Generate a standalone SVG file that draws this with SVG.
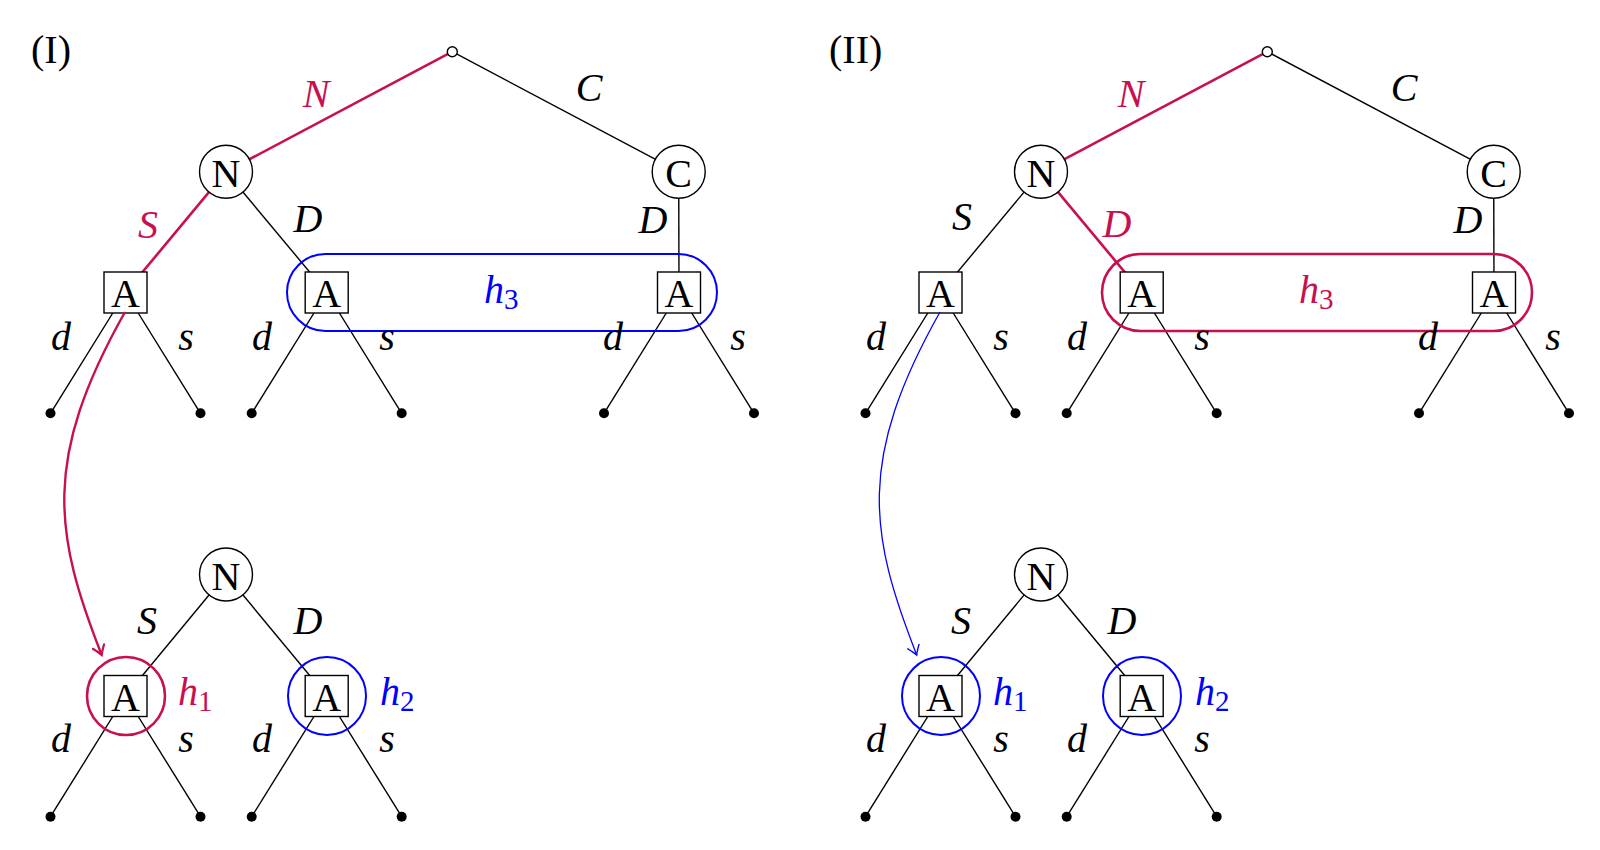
<svg xmlns="http://www.w3.org/2000/svg" width="1600" height="850" viewBox="0 0 1600 850">
<defs>
<style>
.e{stroke:#000;stroke-width:1.4;fill:none}
.er{stroke:#C8104E;stroke-width:2.6;fill:none}
.nd{fill:#fff;stroke:#000;stroke-width:1.4}
.lf{fill:#000}
.t{font-family:"Liberation Serif","Times New Roman",serif;font-size:40px;fill:#000}
.i{font-style:italic}
.m{text-anchor:middle}
.c{text-anchor:middle;dominant-baseline:central}
.red{fill:#C8104E}
.blue{fill:#0000FF}
.hr{fill:none;stroke:#C8104E;stroke-width:2.6}
.hb{fill:none;stroke:#0000FF;stroke-width:2}
</style>
<marker id="arrR" viewBox="-11 -7 13 14" refX="0" refY="0" markerWidth="13" markerHeight="14" orient="auto" markerUnits="userSpaceOnUse">
<path d="M-9,-6 Q-3,-1.5 0,0 Q-3,1.5 -9,6" fill="none" stroke="#C8104E" stroke-width="2.2" stroke-linecap="round"/>
</marker>
<marker id="arrB" viewBox="-11 -7 13 14" refX="0" refY="0" markerWidth="13" markerHeight="14" orient="auto" markerUnits="userSpaceOnUse">
<path d="M-9,-6 Q-3,-1.5 0,0 Q-3,1.5 -9,6" fill="none" stroke="#0000FF" stroke-width="1.4" stroke-linecap="round"/>
</marker>
</defs>
<rect width="1600" height="850" fill="#fff"/>

<g id="connectors">
<!-- Panel I top -->
<line class="er" x1="452.3" y1="51.7" x2="226" y2="171.7"/>
<line class="e" x1="452.3" y1="51.7" x2="678.7" y2="171.7"/>
<line class="er" x1="226" y1="171.7" x2="125.5" y2="292.5"/>
<line class="e" x1="226" y1="171.7" x2="326.7" y2="292.5"/>
<line class="e" x1="678.7" y1="171.7" x2="679" y2="292.5"/>
<line class="e" x1="125.5" y1="292.5" x2="50.5" y2="413.3"/>
<line class="e" x1="125.5" y1="292.5" x2="200.5" y2="413.3"/>
<line class="e" x1="326.7" y1="292.5" x2="251.7" y2="413.3"/>
<line class="e" x1="326.7" y1="292.5" x2="401.7" y2="413.3"/>
<line class="e" x1="679" y1="292.5" x2="604" y2="413.3"/>
<line class="e" x1="679" y1="292.5" x2="754" y2="413.3"/>
<!-- Panel I bottom -->
<line class="e" x1="226" y1="574.5" x2="125.5" y2="696"/>
<line class="e" x1="226" y1="574.5" x2="326.7" y2="696"/>
<line class="e" x1="125.5" y1="696" x2="50.5" y2="816.7"/>
<line class="e" x1="125.5" y1="696" x2="200.5" y2="816.7"/>
<line class="e" x1="326.7" y1="696" x2="251.7" y2="816.7"/>
<line class="e" x1="326.7" y1="696" x2="401.7" y2="816.7"/>
<!-- Panel II top -->
<line class="er" x1="1267.3" y1="51.7" x2="1041" y2="171.7"/>
<line class="e" x1="1267.3" y1="51.7" x2="1493.7" y2="171.7"/>
<line class="e" x1="1041" y1="171.7" x2="940.5" y2="292.5"/>
<line class="er" x1="1041" y1="171.7" x2="1141.7" y2="292.5"/>
<line class="e" x1="1493.7" y1="171.7" x2="1494" y2="292.5"/>
<line class="e" x1="940.5" y1="292.5" x2="865.5" y2="413.3"/>
<line class="e" x1="940.5" y1="292.5" x2="1015.5" y2="413.3"/>
<line class="e" x1="1141.7" y1="292.5" x2="1066.7" y2="413.3"/>
<line class="e" x1="1141.7" y1="292.5" x2="1216.7" y2="413.3"/>
<line class="e" x1="1494" y1="292.5" x2="1419" y2="413.3"/>
<line class="e" x1="1494" y1="292.5" x2="1569" y2="413.3"/>
<!-- Panel II bottom -->
<line class="e" x1="1041" y1="574.5" x2="940.5" y2="696"/>
<line class="e" x1="1041" y1="574.5" x2="1141.7" y2="696"/>
<line class="e" x1="940.5" y1="696" x2="865.5" y2="816.7"/>
<line class="e" x1="940.5" y1="696" x2="1015.5" y2="816.7"/>
<line class="e" x1="1141.7" y1="696" x2="1066.7" y2="816.7"/>
<line class="e" x1="1141.7" y1="696" x2="1216.7" y2="816.7"/>
</g>

<g id="infosets">
<rect id="h3-I" class="hb" x="287" y="254" width="430" height="77" rx="38.5"/>
<rect id="h3-II" class="hr" x="1102" y="254" width="430" height="77" rx="38.5"/>
<circle id="h1-I" class="hr" cx="126" cy="696" r="39"/>
<circle id="h2-I" class="hb" cx="327" cy="696" r="39"/>
<circle id="h1-II" class="hb" cx="941" cy="696" r="39"/>
<circle id="h2-II" class="hb" cx="1142" cy="696" r="39"/>
</g>

<g id="leaves">
<circle class="lf" cx="50.5" cy="413.3" r="5"/><circle class="lf" cx="200.5" cy="413.3" r="5"/>
<circle class="lf" cx="251.7" cy="413.3" r="5"/><circle class="lf" cx="401.7" cy="413.3" r="5"/>
<circle class="lf" cx="604" cy="413.3" r="5"/><circle class="lf" cx="754" cy="413.3" r="5"/>
<circle class="lf" cx="50.5" cy="816.7" r="5"/><circle class="lf" cx="200.5" cy="816.7" r="5"/>
<circle class="lf" cx="251.7" cy="816.7" r="5"/><circle class="lf" cx="401.7" cy="816.7" r="5"/>
<circle class="lf" cx="865.5" cy="413.3" r="5"/><circle class="lf" cx="1015.5" cy="413.3" r="5"/>
<circle class="lf" cx="1066.7" cy="413.3" r="5"/><circle class="lf" cx="1216.7" cy="413.3" r="5"/>
<circle class="lf" cx="1419" cy="413.3" r="5"/><circle class="lf" cx="1569" cy="413.3" r="5"/>
<circle class="lf" cx="865.5" cy="816.7" r="5"/><circle class="lf" cx="1015.5" cy="816.7" r="5"/>
<circle class="lf" cx="1066.7" cy="816.7" r="5"/><circle class="lf" cx="1216.7" cy="816.7" r="5"/>
</g>

<!-- Panel I nodes -->
<g id="root-I"><circle class="nd" cx="452.3" cy="51.7" r="5"/></g>
<g id="N-I"><circle class="nd" cx="226" cy="171.7" r="26.5"/><text class="t c" x="226" y="173">N</text></g>
<g id="C-I"><circle class="nd" cx="678.7" cy="171.7" r="26.5"/><text class="t c" x="678.7" y="173">C</text></g>
<g id="A1-I"><rect class="nd" x="104" y="272" width="43" height="41"/><text class="t c" x="125.5" y="293.5">A</text></g>
<g id="A2-I"><rect class="nd" x="305.2" y="272" width="43" height="41"/><text class="t c" x="326.7" y="293.5">A</text></g>
<g id="A3-I"><rect class="nd" x="657.5" y="272" width="43" height="41"/><text class="t c" x="679" y="293.5">A</text></g>
<g id="Nb-I"><circle class="nd" cx="226" cy="574.5" r="26.5"/><text class="t c" x="226" y="576">N</text></g>
<g id="Ab1-I"><rect class="nd" x="104" y="675.5" width="43" height="41"/><text class="t c" x="125.5" y="697">A</text></g>
<g id="Ab2-I"><rect class="nd" x="305.2" y="675.5" width="43" height="41"/><text class="t c" x="326.7" y="697">A</text></g>

<!-- Panel II nodes -->
<g id="root-II"><circle class="nd" cx="1267.3" cy="51.7" r="5"/></g>
<g id="N-II"><circle class="nd" cx="1041" cy="171.7" r="26.5"/><text class="t c" x="1041" y="173">N</text></g>
<g id="C-II"><circle class="nd" cx="1493.7" cy="171.7" r="26.5"/><text class="t c" x="1493.7" y="173">C</text></g>
<g id="A1-II"><rect class="nd" x="919" y="272" width="43" height="41"/><text class="t c" x="940.5" y="293.5">A</text></g>
<g id="A2-II"><rect class="nd" x="1120.2" y="272" width="43" height="41"/><text class="t c" x="1141.7" y="293.5">A</text></g>
<g id="A3-II"><rect class="nd" x="1472.5" y="272" width="43" height="41"/><text class="t c" x="1494" y="293.5">A</text></g>
<g id="Nb-II"><circle class="nd" cx="1041" cy="574.5" r="26.5"/><text class="t c" x="1041" y="576">N</text></g>
<g id="Ab1-II"><rect class="nd" x="919" y="675.5" width="43" height="41"/><text class="t c" x="940.5" y="697">A</text></g>
<g id="Ab2-II"><rect class="nd" x="1120.2" y="675.5" width="43" height="41"/><text class="t c" x="1141.7" y="697">A</text></g>

<g id="arrows">
<path d="M125,312 C41.7,459.9 54.4,534.1 101.7,655" fill="none" stroke="#C8104E" stroke-width="2.4" marker-end="url(#arrR)"/>
<path d="M940,312 C856.7,459.9 869.4,534.1 916.7,655" fill="none" stroke="#0000FF" stroke-width="1.3" marker-end="url(#arrB)"/>
</g>

<g id="labels">
<text class="t" x="31" y="63" font-size="37">(I)</text>
<text class="t" x="829" y="63" font-size="37">(II)</text>
<!-- Panel I -->
<text class="t i m red" x="316" y="107">N</text>
<text class="t i m" x="589" y="101">C</text>
<text class="t i m red" x="148" y="238">S</text>
<text class="t i m" x="308" y="232">D</text>
<text class="t i m" x="653" y="233">D</text>
<text class="t i blue" x="484" y="303">h<tspan font-size="29" font-style="normal" dy="6">3</tspan></text>
<text class="t i m" x="61" y="350">d</text>
<text class="t i m" x="186" y="350">s</text>
<text class="t i m" x="262" y="350">d</text>
<text class="t i m" x="387" y="350">s</text>
<text class="t i m" x="613" y="350">d</text>
<text class="t i m" x="738" y="350">s</text>
<text class="t i m" x="147" y="634">S</text>
<text class="t i m" x="308" y="634">D</text>
<text class="t i red" x="178" y="705">h<tspan font-size="29" font-style="normal" dy="6">1</tspan></text>
<text class="t i blue" x="380" y="705">h<tspan font-size="29" font-style="normal" dy="6">2</tspan></text>
<text class="t i m" x="61" y="752">d</text>
<text class="t i m" x="186" y="752">s</text>
<text class="t i m" x="262" y="752">d</text>
<text class="t i m" x="387" y="752">s</text>
<!-- Panel II -->
<text class="t i m red" x="1131" y="107">N</text>
<text class="t i m" x="1404" y="101">C</text>
<text class="t i m" x="962" y="230">S</text>
<text class="t i m red" x="1117" y="237">D</text>
<text class="t i m" x="1468" y="233">D</text>
<text class="t i red" x="1299" y="303">h<tspan font-size="29" font-style="normal" dy="6">3</tspan></text>
<text class="t i m" x="876" y="350">d</text>
<text class="t i m" x="1001" y="350">s</text>
<text class="t i m" x="1077" y="350">d</text>
<text class="t i m" x="1202" y="350">s</text>
<text class="t i m" x="1428" y="350">d</text>
<text class="t i m" x="1553" y="350">s</text>
<text class="t i m" x="961" y="634">S</text>
<text class="t i m" x="1122" y="634">D</text>
<text class="t i blue" x="993" y="705">h<tspan font-size="29" font-style="normal" dy="6">1</tspan></text>
<text class="t i blue" x="1195" y="705">h<tspan font-size="29" font-style="normal" dy="6">2</tspan></text>
<text class="t i m" x="876" y="752">d</text>
<text class="t i m" x="1001" y="752">s</text>
<text class="t i m" x="1077" y="752">d</text>
<text class="t i m" x="1202" y="752">s</text>
</g>
</svg>
